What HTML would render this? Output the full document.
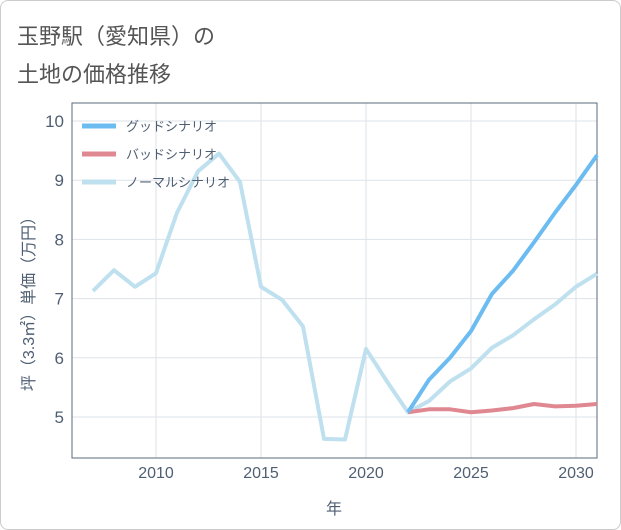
<!DOCTYPE html>
<html><head><meta charset="utf-8"><style>
body{margin:0;background:#fff;font-family:"Liberation Sans","Noto Sans CJK JP",sans-serif;}
#wrap{position:relative;width:619px;height:528px;border:1px solid #ccc;border-radius:8px;overflow:hidden;background:#fff}
.title{position:absolute;left:16px;font-size:22px;color:#555;}
</style></head><body>
<div id="wrap">
<div class="title" style="top:18px">玉野駅（愛知県）の</div>
<div class="title" style="top:56px">土地の価格推移</div>
<svg id="chart" width="621" height="530" style="position:absolute;left:-1px;top:-1px"></svg>
</div>
<script>
const normalYears=[2007,2008,2009,2010,2011,2012,2013,2014,2015,2016,2017,2018,2019,2020,2021,2022,2023,2024,2025,2026,2027,2028,2029,2030,2031];
const normalVals=[7.13,7.48,7.2,7.43,8.45,9.15,9.45,8.97,7.2,6.98,6.53,4.63,4.62,6.15,5.6,5.08,5.27,5.6,5.82,6.17,6.38,6.65,6.9,7.2,7.42];
const futureYears=[2022,2023,2024,2025,2026,2027,2028,2029,2030,2031];
const goodVals=[5.08,5.63,6.0,6.45,7.08,7.47,7.95,8.45,8.92,9.42];
const badVals=[5.08,5.13,5.13,5.08,5.11,5.15,5.22,5.18,5.19,5.22];
const xTicks=[2010,2015,2020,2025,2030];
const yTicks=[5,6,7,8,9,10];
const L=72,R=597,T=103,B=458;
const AX='#4f5f73';
const x=v=>L+(v-2006)/(2031-2006)*(R-L);
const y=v=>417-(v-5)*59.2;
const svg=document.getElementById('chart');
const NS='http://www.w3.org/2000/svg';
function mk(tag,attrs,parent){const e=document.createElementNS(NS,tag);for(const k in attrs)e.setAttribute(k,attrs[k]);(parent||svg).appendChild(e);return e;}
xTicks.forEach(t=>{
  const g=mk('line',{x1:x(t),x2:x(t),y1:T,y2:B,stroke:'#dde3ea','stroke-width':1});
  
  
  const lb=mk('text',{x:x(t),y:B+20,'text-anchor':'middle','font-size':16,fill:AX});
  lb.textContent=t;
  
  
});
yTicks.forEach(t=>{
  const g=mk('line',{x1:L,x2:R,y1:y(t),y2:y(t),stroke:'#dde3ea','stroke-width':1});
  
  
  const lb=mk('text',{x:L-8,y:y(t)+6,'text-anchor':'end','font-size':17,fill:AX});
  lb.textContent=t;
  
  
});
const frame=mk('rect',{x:L,y:T,width:R-L,height:B-T,fill:'none',stroke:'#5a6b7e','stroke-width':1});


function line(xs,vs,color,name){
  const p=mk('polyline',{points:xs.map((v,i)=>x(v)+','+y(vs[i])).join(' '),fill:'none',stroke:color,'stroke-width':4,'stroke-linejoin':'round'});
  
  
}
line(normalYears,normalVals,'#bfe0ee','normal-scenario-line');
line(futureYears,badVals,'#e08891','bad-scenario-line');
line(futureYears,goodVals,'#6cbcf2','good-scenario-line');
const leg=[['グッドシナリオ','#6cbcf2'],['バッドシナリオ','#e08891'],['ノーマルシナリオ','#bfe0ee']];
leg.forEach((l,i)=>{
  const yy=126+i*28;
  const s=mk('line',{x1:82,x2:116,y1:yy,y2:yy,stroke:l[1],'stroke-width':5});
  
  
  const t=mk('text',{x:126,y:yy+5,'font-size':13,fill:AX});
  t.textContent=l[0];
  
  
});
const xt=mk('text',{x:334,y:514,'text-anchor':'middle','font-size':16,fill:AX});
xt.textContent='年';


const yt=mk('text',{x:0,y:0,'text-anchor':'middle','font-size':16,fill:AX,transform:'translate(34,300) rotate(-90)'});
yt.textContent='坪（3.3㎡）単価（万円）';


</script>
</body></html>
